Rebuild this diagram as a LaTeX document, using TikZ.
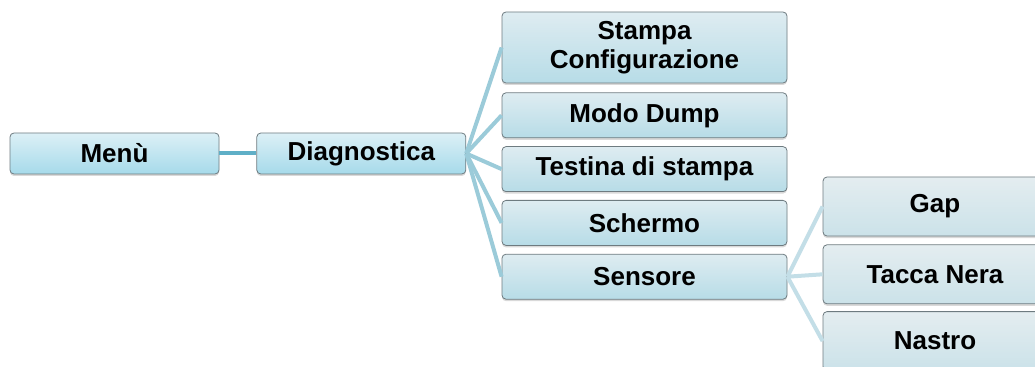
\documentclass[tikz,border=0pt]{standalone}
\usepackage{fontspec}
\setmainfont{Liberation Sans}
\usepackage{tikz}
\usetikzlibrary{positioning}
\usetikzlibrary{shadows}

\definecolor{boxborder}{HTML}{6E7B80}
\definecolor{lineone}{HTML}{5FAFC7}
\definecolor{linetwo}{HTML}{9BCBD9}
\definecolor{linethree}{HTML}{C3DEE7}
\definecolor{onetop}{HTML}{DCF0F6}
\definecolor{onebottom}{HTML}{A6DAEA}
\definecolor{twotop}{HTML}{DEECF1}
\definecolor{twobottom}{HTML}{B7DCE7}
\definecolor{threetop}{HTML}{E4EDF0}
\definecolor{threebottom}{HTML}{CBE2E9}

\begin{document}
\begin{tikzpicture}[x=0.75pt, y=-0.75pt,
  box/.style={rectangle, draw=boxborder, line width=0.6pt, rounded corners=3pt,
    align=center, inner sep=0pt, text=black,
    font=\fontsize{19.5pt}{22pt}\selectfont\bfseries,
    drop shadow={shadow xshift=0pt, shadow yshift=-1.5pt, opacity=0.25, fill=black!60}},
  box_one/.style={box, minimum width=156.75pt, minimum height=30.75pt,
    top color=onetop, bottom color=onebottom},
  box_two/.style={box, minimum width=213.75pt, minimum height=33.75pt,
    top color=twotop, bottom color=twobottom},
  box_three/.style={box, minimum width=168pt, minimum height=44.25pt,
    top color=threetop, bottom color=threebottom},
  branch_one/.style={draw=lineone, line width=3pt},
  branch_two/.style={draw=linetwo, line width=3pt},
  branch_three/.style={draw=linethree, line width=3pt}]
\useasboundingbox (0,0) rectangle (1035,367);

\node[name=menu, box_one] at (114.5,153.5) {Menù};
\node[name=diag, box_one, right=27.75pt of menu] {Diagnostica};

\node[name=stampa, box_two, minimum height=53.25pt] at (644.5,47.5) {Stampa\\Configurazione};
\node[name=dump, box_two, below=6.75pt of stampa] {Modo Dump};
\node[name=testina, box_two, below=6pt of dump] {Testina di stampa};
\node[name=schermo, box_two, below=6pt of testina] {Schermo};
\node[name=sensore, box_two, below=6pt of schermo] {Sensore};

\node[name=gap, box_three] at (935,206.5) {Gap};
\node[name=tacca, box_three, below=6pt of gap] {Tacca Nera};
\node[name=nastro, box_three, below=5.25pt of tacca] {Nastro};

\draw(menu.east) edge[branch_one](diag.west);
\draw(diag.east) edge[branch_two](stampa.west);
\draw(diag.east) edge[branch_two](dump.west);
\draw(diag.east) edge[branch_two](testina.west);
\draw(diag.east) edge[branch_two](schermo.west);
\draw(diag.east) edge[branch_two](sensore.west);
\draw(sensore.east) edge[branch_three](gap.west);
\draw(sensore.east) edge[branch_three](tacca.west);
\draw(sensore.east) edge[branch_three](nastro.west);

\end{tikzpicture}
\end{document}
